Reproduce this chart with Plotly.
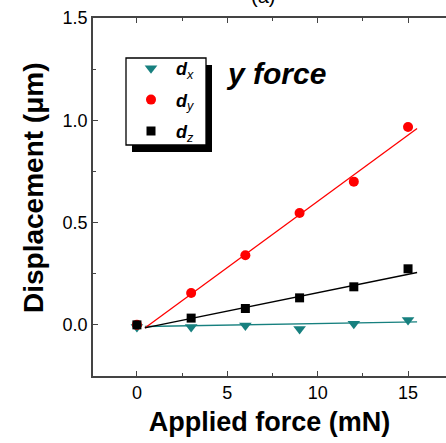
import plotly.graph_objects as go

force = [0, 3, 6, 9, 12, 15]
dx = [-0.01, -0.01, -0.003, -0.02, 0.005, 0.024]
dy = [0.0, 0.156, 0.34, 0.547, 0.70, 0.967]
dz = [0.0, 0.033, 0.080, 0.132, 0.186, 0.274]

fit_x = [0.44, 15.5]
fit_dx = [-0.008, 0.015]
fit_dy = [-0.015, 0.96]
fit_dz = [-0.015, 0.256]

teal = "#17807f"
red = "#ff0000"
black = "#000000"
font = "Liberation Sans, Arial, sans-serif"

fig = go.Figure()
for fy, c in [(fit_dx, teal), (fit_dy, red), (fit_dz, black)]:
    fig.add_trace(go.Scatter(x=fit_x, y=fy, mode="lines", line=dict(color=c, width=1.3),
                             showlegend=False, hoverinfo="skip"))

fig.add_trace(go.Scatter(x=force, y=dx, mode="markers", name="<b><i>d</i></b><sub><i>x</i></sub>",
                         legendgroup="a",
                         marker=dict(symbol="triangle-down", size=11, color=teal)))
fig.add_trace(go.Scatter(x=force, y=dy, mode="markers", name="<b><i>d</i></b><sub><i>y</i></sub>",
                         legendgroup="b",
                         marker=dict(symbol="circle", size=10, color=red)))
fig.add_trace(go.Scatter(x=force, y=dz, mode="markers", name="<b><i>d</i></b><sub><i>z</i></sub>",
                         legendgroup="c",
                         marker=dict(symbol="square", size=9, color=black)))

W, H = 446, 443
L, R, T, B = 93, 0, 18, 67
pw, ph = W - L - R, H - T - B

def px(xp):
    return (xp - L) / pw

def py(yp):
    return 1 - (yp - T) / ph

# legend shadow and frame
fig.add_shape(type="rect", xref="paper", yref="paper",
              x0=px(132), x1=px(212), y0=py(152), y1=py(65),
              fillcolor="black", line=dict(width=0), layer="below")
fig.add_shape(type="rect", xref="paper", yref="paper",
              x0=px(126), x1=px(206), y0=py(145), y1=py(58),
              fillcolor="white", line=dict(width=1.3, color="black"), layer="below")

fig.update_layout(
    width=W, height=H,
    margin=dict(l=L, r=R, t=T, b=B),
    paper_bgcolor="white", plot_bgcolor="white",
    font=dict(family=font, color="black"),
    showlegend=True,
    legend=dict(x=px(126), y=py(50), xanchor="left", yanchor="top",
                bgcolor="rgba(0,0,0,0)", borderwidth=0,
                font=dict(size=18, family=font), itemwidth=40,
                tracegroupgap=5),
    xaxis=dict(range=[-2.43, 17.1], tickvals=[0, 5, 10, 15], ticks="inside", ticklen=5,
               tickwidth=1.2, showline=True, linecolor="#444", linewidth=1.5, mirror="ticks",
               showgrid=False, zeroline=False, automargin=False,
               minor=dict(tickvals=[2.5, 7.5, 12.5], ticks="inside", ticklen=3, tickwidth=1),
               tickfont=dict(size=18, family=font),
               title=dict(text="<b>Applied force (mN)</b>", font=dict(size=27, family=font), standoff=10)),
    yaxis=dict(range=[-0.25, 1.5], tickvals=[0, 0.5, 1.0, 1.5], ticktext=["0.0", "0.5", "1.0", "1.5"],
               ticks="inside", ticklen=5, tickwidth=1.2, showline=True, linecolor="#444", linewidth=1.5,
               showgrid=False, zeroline=False, automargin=False,
               minor=dict(tickvals=[-0.25, 0.25, 0.75, 1.25], ticks="inside", ticklen=3, tickwidth=1),
               tickfont=dict(size=18, family=font)),
)

fig.add_annotation(text="<b>Displacement (μm)</b>", xref="paper", yref="paper",
                   x=px(33), y=py(188), xanchor="center", yanchor="middle", textangle=-90,
                   showarrow=False, font=dict(size=28, family=font))
fig.add_annotation(text="<b><i>y force</i></b>", xref="paper", yref="paper",
                   x=px(224), y=py(73), xanchor="left", yanchor="middle",
                   showarrow=False, font=dict(size=30, family=font))
fig.add_annotation(text="(a)", xref="paper", yref="paper",
                   x=px(263), y=py(9), xanchor="center", yanchor="bottom",
                   showarrow=False, font=dict(size=20, family=font))

fig.write_html("out.html", post_script="document.body.style.margin='0';",
               config={"displayModeBar": False})
